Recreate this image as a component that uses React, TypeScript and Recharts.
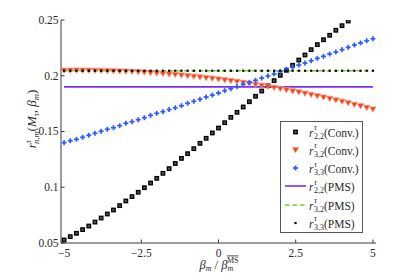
import React from 'react';
import { ComposedChart, Line, XAxis, YAxis, Legend } from 'recharts';

const betas = [
  -5, -4.8, -4.6, -4.4, -4.2, -4, -3.8, -3.6, -3.4, -3.2,
  -3, -2.8, -2.6, -2.4, -2.2, -2, -1.8, -1.6, -1.4, -1.2,
  -1, -0.8, -0.6, -0.4, -0.2, 0, 0.2, 0.4, 0.6, 0.8,
  1, 1.2, 1.4, 1.6, 1.8, 2, 2.2, 2.4, 2.6, 2.8,
  3, 3.2, 3.4, 3.6, 3.8, 4, 4.2, 4.4, 4.6, 4.8, 5,
];

const conv22 = [
  0.0527, 0.0557, 0.0587, 0.062, 0.0652, 0.0688, 0.0724, 0.076, 0.0796, 0.0835,
  0.0877, 0.0916, 0.0955, 0.0996, 0.1038, 0.108, 0.1125, 0.1167, 0.1213, 0.1259,
  0.1301, 0.1346, 0.1394, 0.1439, 0.1487, 0.1531, 0.1579, 0.1627, 0.1672, 0.172,
  0.1767, 0.1816, 0.1863, 0.191, 0.1956, 0.2004, 0.2049, 0.2094, 0.2141, 0.2186,
  0.2234, 0.2279, 0.2323, 0.2363, 0.2408, 0.2449, 0.2491, null, null, null, null,
];

const conv32 = [
  0.2047, 0.2047, 0.2048, 0.2047, 0.2047, 0.2046, 0.2045, 0.2044, 0.2042, 0.204,
  0.2038, 0.2036, 0.2033, 0.203, 0.2026, 0.2022, 0.2018, 0.2014, 0.2009, 0.2004,
  0.1999, 0.1993, 0.1987, 0.1981, 0.1975, 0.1968, 0.1961, 0.1954, 0.1946, 0.1938,
  0.1929, 0.1921, 0.1912, 0.1903, 0.1893, 0.1883, 0.1872, 0.1861, 0.1852, 0.1841,
  0.1829, 0.1818, 0.1806, 0.1794, 0.1781, 0.1768, 0.1755, 0.1741, 0.1728, 0.1713, 0.1699,
];

const conv33 = [
  0.14, 0.1417, 0.143, 0.1448, 0.1466, 0.1484, 0.1502, 0.152, 0.1534, 0.1552,
  0.1574, 0.1588, 0.1606, 0.1624, 0.1645, 0.1663, 0.1678, 0.1697, 0.1713, 0.1731,
  0.1753, 0.1771, 0.1789, 0.1809, 0.1827, 0.1845, 0.1866, 0.1884, 0.1902, 0.1923,
  0.1941, 0.1959, 0.1979, 0.1998, 0.2016, 0.2037, 0.2058, 0.2076, 0.2096, 0.2114,
  0.2135, 0.2156, 0.2174, 0.2195, 0.2213, 0.2234, 0.2255, 0.2276, 0.2294, 0.2314, 0.2332,
];

const PMS22 = 0.19;
const PMS32 = 0.2045;
const PMS33 = 0.2045;

const xTicks = [-5, -2.5, 0, 2.5, 5];
const xTickLabels = ['\u22125', '\u22122.5', '0', '2.5', '5'];
const yTicks = [0.05, 0.1, 0.15, 0.2, 0.25];
const yTickLabels = ['0.05', '0.1', '0.15', '0.2', '0.25'];

const legendSubs = ['2,2', '3,2', '3,3', '2,2', '3,2', '3,3'];
const legendTags = ['(Conv.)', '(Conv.)', '(Conv.)', '(PMS)', '(PMS)', '(PMS)'];
const legendKinds = ['square', 'triangle', 'cross', 'solid', 'dashed', 'dot'];

const data = betas.map((b, i) => ({
  beta: b,
  c22: conv22[i],
  c32: conv32[i],
  c33: conv33[i],
  p22: PMS22,
  p32: PMS32,
  p33: PMS33,
}));

const FONT = 'Liberation Serif, Times New Roman, Times, serif';
const TEXT = '#2a2a2a';
const AXIS = '#3a3a3a';
const PURPLE = '#7a2ff5';
const GREEN = '#6fd12a';
const RED = '#f2451d';
const BLUE = '#2d5bff';

const empty = (p: any) => <g key={`e-${p.index}`} />;

const SquareDot = (p: any) => {
  if (p.cx == null || p.cy == null || p.value == null) return empty(p);
  return (
    <rect key={`s-${p.index}`} x={p.cx - 1.75} y={p.cy - 1.75} width={3.5} height={3.5}
      fill="#555" stroke="#000" strokeWidth={1.3} />
  );
};

const TriangleDot = (p: any) => {
  if (p.cx == null || p.cy == null || p.value == null) return empty(p);
  const { cx, cy } = p;
  return (
    <polygon key={`t-${p.index}`}
      points={`${cx - 3.2},${cy - 2.4} ${cx + 3.2},${cy - 2.4} ${cx},${cy + 2.8}`}
      fill={RED} stroke="#f8947a" strokeWidth={0.8} />
  );
};

const CrossDot = (p: any) => {
  if (p.cx == null || p.cy == null || p.value == null) return empty(p);
  const { cx, cy } = p;
  return (
    <g key={`c-${p.index}`}>
      <rect x={cx - 2.5} y={cy - 0.85} width={5} height={1.7} fill={BLUE} />
      <rect x={cx - 0.85} y={cy - 2.5} width={1.7} height={5} fill={BLUE} />
    </g>
  );
};

const SmallDot = (p: any) => {
  if (p.cx == null || p.cy == null || p.value == null) return empty(p);
  return <rect key={`d-${p.index}`} x={p.cx - 1.1} y={p.cy - 1.1} width={2.2} height={2.2} fill="#000" />;
};

const BottomTick = (p: any) => {
  const i = xTicks.indexOf(p.payload.value);
  return (
    <g>
      <line x1={p.x} y1={p.y} x2={p.x} y2={p.y - 3.5} stroke={AXIS} strokeWidth={1} />
      <text x={p.x} y={p.y + 14} textAnchor="middle" fontFamily={FONT} fontSize={11.5} fill={TEXT}>
        {xTickLabels[i]}
      </text>
    </g>
  );
};

const TopTick = (p: any) => (
  <line x1={p.x} y1={p.y} x2={p.x} y2={p.y + 3.5} stroke={AXIS} strokeWidth={1} />
);

const LeftTick = (p: any) => {
  const i = yTicks.findIndex((t) => Math.abs(t - p.payload.value) < 1e-9);
  return (
    <g>
      <line x1={p.x} y1={p.y} x2={p.x + 3.5} y2={p.y} stroke={AXIS} strokeWidth={1} />
      <text x={p.x - 2.5} y={p.y + 3.8} textAnchor="end" fontFamily={FONT} fontSize={11.5} fill={TEXT}>
        {yTickLabels[i]}
      </text>
    </g>
  );
};

const RightTick = (p: any) => (
  <line x1={p.x} y1={p.y} x2={p.x - 3.5} y2={p.y} stroke={AXIS} strokeWidth={1} />
);

const YLabel = () => (
  <text transform="translate(36, 119) rotate(-90)" textAnchor="middle" fontFamily={FONT}
    fontSize={13} fill={TEXT}>
    <tspan fontStyle="italic">r</tspan>
    <tspan fontSize={8.5} fontStyle="italic" dy={-5}>τ</tspan>
    <tspan fontSize={8.5} fontStyle="italic" dx={-3.8} dy={8}>n,m</tspan>
    <tspan dy={-3}>(</tspan>
    <tspan fontStyle="italic">M</tspan>
    <tspan fontSize={8.5} fontStyle="italic" dy={2.5}>τ</tspan>
    <tspan dy={-2.5}>, </tspan>
    <tspan fontStyle="italic">β</tspan>
    <tspan fontSize={8.5} fontStyle="italic" dy={2.5}>m</tspan>
    <tspan dy={-2.5}>)</tspan>
  </text>
);

const XLabel = () => (
  <text x={219} y={268.5} textAnchor="middle" fontFamily={FONT} fontSize={12.5} fill={TEXT}>
    <tspan fontStyle="italic">β</tspan>
    <tspan fontSize={8} fontStyle="italic" dy={2.5}>m</tspan>
    <tspan dy={-2.5}> / </tspan>
    <tspan fontStyle="italic">β</tspan>
    <tspan fontSize={8} fontStyle="italic" dy={2.5}>m</tspan>
    <tspan fontSize={8} dx={-6.2} dy={-8.5} style={{ textDecoration: 'overline' }}>MS</tspan>
  </text>
);

const LegendMarker = ({ kind }: { kind: string }) => {
  const cx = 14.5;
  const cy = 9;
  if (kind === 'square')
    return <rect x={cx - 1.75} y={cy - 1.75} width={3.5} height={3.5} fill="#555" stroke="#000" strokeWidth={1.3} />;
  if (kind === 'triangle')
    return <polygon points={`${cx - 3.2},${cy - 2.4} ${cx + 3.2},${cy - 2.4} ${cx},${cy + 2.8}`} fill={RED} stroke="#f8947a" strokeWidth={0.8} />;
  if (kind === 'cross')
    return (
      <g>
        <rect x={cx - 2.5} y={cy - 0.85} width={5} height={1.7} fill={BLUE} />
        <rect x={cx - 0.85} y={cy - 2.5} width={1.7} height={5} fill={BLUE} />
      </g>
    );
  if (kind === 'solid') return <line x1={4} x2={25} y1={cy} y2={cy} stroke={PURPLE} strokeWidth={1.6} />;
  if (kind === 'dashed') return <line x1={4} x2={25} y1={cy} y2={cy} stroke={GREEN} strokeWidth={1.6} strokeDasharray="4.5 3" />;
  return <rect x={cx - 1.1} y={cy - 1.1} width={2.2} height={2.2} fill="#000" />;
};

const LegendBox = () => (
  <div style={{
    width: 83, height: 112, border: '1px solid #555', background: '#fff', boxSizing: 'border-box',
    fontFamily: FONT, fontSize: 11.5, color: TEXT, paddingTop: 0.5,
  }}>
    {legendKinds.map((k, i) => (
      <div key={i} style={{ display: 'flex', alignItems: 'center', height: 18.25 }}>
        <svg width={28} height={18} style={{ flex: 'none', display: 'block' }}>
          <LegendMarker kind={k} />
        </svg>
        <span style={{ whiteSpace: 'nowrap', lineHeight: '12px' }}>
          <i>r</i>
          <span style={{ display: 'inline-block', position: 'relative', width: 10.5, height: 12, verticalAlign: 'baseline' }}>
            <span style={{ position: 'absolute', left: 0.5, top: -0.5, fontSize: 8, fontStyle: 'italic', lineHeight: '8px' }}>τ</span>
            <span style={{ position: 'absolute', left: 0.5, top: 8, fontSize: 8, lineHeight: '8px' }}>{legendSubs[i]}</span>
          </span>
          {legendTags[i]}
        </span>
      </div>
    ))}
  </div>
);

export default function App() {
  return (
    <div style={{ position: 'absolute', left: 0, top: 0, width: 415, height: 275, background: '#fff' }}>
      <ComposedChart width={415} height={275} data={data} margin={{ top: 20, right: 39, bottom: 0, left: 0 }}>
        <XAxis dataKey="beta" type="number" domain={[-5.1, 5.1]} ticks={xTicks} allowDataOverflow
          height={32} tickSize={0} tickMargin={0} tick={BottomTick} axisLine={{ stroke: AXIS }} tickLine={false}
          label={<XLabel />} />
        <XAxis xAxisId="top" orientation="top" dataKey="beta" type="number" domain={[-5.1, 5.1]} ticks={xTicks}
          allowDataOverflow height={0} tickSize={0} tickMargin={0} tick={TopTick} axisLine={{ stroke: AXIS }} tickLine={false} />
        <YAxis type="number" domain={[0.05, 0.25]} ticks={yTicks} allowDataOverflow width={61} tickSize={0}
          tickMargin={0} tick={LeftTick} axisLine={{ stroke: AXIS }} tickLine={false} label={<YLabel />} />
        <YAxis yAxisId="right" orientation="right" type="number" domain={[0.05, 0.25]} ticks={yTicks}
          allowDataOverflow width={0} tickSize={0} tickMargin={0} tick={RightTick} axisLine={{ stroke: AXIS }} tickLine={false} />
        <Line dataKey="c22" stroke="none" strokeWidth={0} dot={SquareDot} activeDot={false} isAnimationActive={false} />
        <Line dataKey="c32" stroke="none" strokeWidth={0} dot={TriangleDot} activeDot={false} isAnimationActive={false} />
        <Line dataKey="c33" stroke="none" strokeWidth={0} dot={CrossDot} activeDot={false} isAnimationActive={false} />
        <Line dataKey="p22" stroke={PURPLE} strokeWidth={1.6} dot={false} activeDot={false} isAnimationActive={false} />
        <Line dataKey="p32" stroke={GREEN} strokeWidth={1.6} strokeDasharray="4.5 3" dot={false} activeDot={false} isAnimationActive={false} />
        <Line dataKey="p33" stroke="none" strokeWidth={0} dot={SmallDot} activeDot={false} isAnimationActive={false} />
        <Legend content={<LegendBox />} layout="vertical" align="center" verticalAlign="middle"
          wrapperStyle={{ left: 280, top: 121, width: 83 }} />
      </ComposedChart>
    </div>
  );
}
